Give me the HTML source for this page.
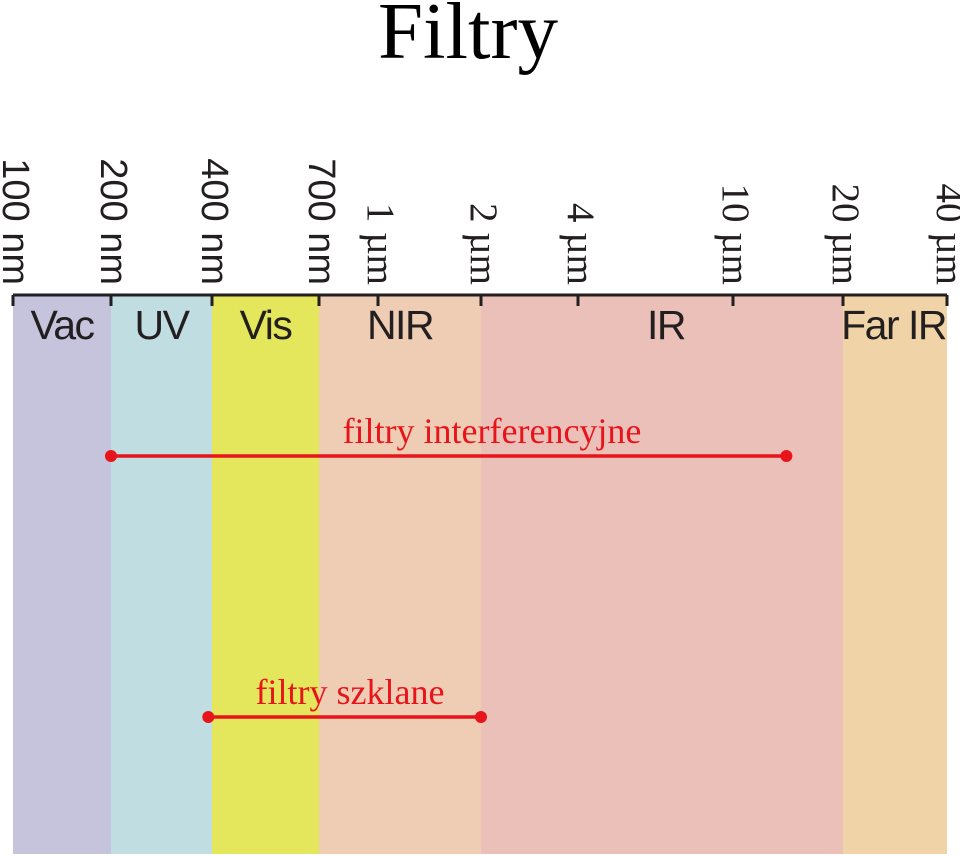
<!DOCTYPE html>
<html><head><meta charset="utf-8"><style>
html,body{margin:0;padding:0;background:#fff;}
svg{display:block;}
</style></head><body>
<svg id="chart" width="960" height="856" viewBox="0 0 960 856" xmlns="http://www.w3.org/2000/svg">
<text x="468" y="58" text-anchor="middle" font-family="Liberation Serif, serif" font-size="81">Filtry</text>
<g id="bands"></g>
<g id="axis"></g>
<g id="ranges"></g>
</svg>
<script>
// wavelengths in µm
const tickValues = [0.1, 0.2, 0.4, 0.7, 1, 2, 4, 10, 20, 40];
const tickLabels = ["100 nm","200 nm","400 nm","700 nm","1 µm","2 µm","4 µm","10 µm","20 µm","40 µm"];
// axis calibration (pixel location of each tick on the printed axis)
const tickPx = [13, 111, 212, 319, 378, 481, 578, 733, 843, 947];
const bandNames = ["Vac","UV","Vis","NIR","IR","Far IR"];
const bandStart = [0.1, 0.2, 0.4, 0.7, 2, 20];
const bandEnd = [0.2, 0.4, 0.7, 2, 20, 40];
const bandColors = ["#c6c3dd","#c0dde1","#e4e65c","#efcdb5","#ebc0b9","#f0d4a8"];
const filterNames = ["filtry interferencyjne","filtry szklane"];
const filterStart = [0.2, 0.39];
const filterEnd = [14, 2];
const filterY = [456, 717];

const NS = "http://www.w3.org/2000/svg";
function xScale(v){
  const lv = Math.log(v);
  for(let i=0;i<tickValues.length-1;i++){
    const a=Math.log(tickValues[i]), b=Math.log(tickValues[i+1]);
    if(lv<=b || i===tickValues.length-2){
      return tickPx[i] + (lv-a)/(b-a)*(tickPx[i+1]-tickPx[i]);
    }
  }
}
function mk(tag, attrs, parent){
  const e=document.createElementNS(NS,tag);
  for(const k in attrs) e.setAttribute(k,attrs[k]);
  parent.appendChild(e); return e;
}
const gB=document.getElementById("bands"), gA=document.getElementById("axis"), gR=document.getElementById("ranges");
const axisY=295, bottom=854;
bandNames.forEach((n,i)=>{
  const x0=xScale(bandStart[i]), x1=xScale(bandEnd[i]);
  const r=mk("rect",{x:x0,y:axisY,width:x1-x0,height:bottom-axisY,fill:bandColors[i]},gB);
  
  
  let cx=(x0+x1)/2, anchor="middle";
  if(n==="Far IR"){cx=x1-1; anchor="end";}
  if(n==="IR"){cx=666;}
  const t=mk("text",{x:cx,y:339,"text-anchor":anchor,"font-family":"Liberation Sans, sans-serif","font-size":"41","letter-spacing":"-1.5",fill:"#231f20"},gB);
  t.textContent=n;
  
  
});
const ax=mk("line",{x1:xScale(tickValues[0]),x2:xScale(tickValues[tickValues.length-1]),y1:axisY,y2:axisY,stroke:"#231f20","stroke-width":"3"},gA);


tickValues.forEach((v,i)=>{
  const x=xScale(v);
  const tk=mk("line",{x1:x,x2:x,y1:axisY,y2:axisY+11,stroke:"#231f20","stroke-width":"3"},gA);
  
  
  const serif=tickLabels[i].indexOf("µm")>=0;
  const t=mk("text",{x:0,y:0,"text-anchor":"end","font-family":serif?"Liberation Serif, serif":"Liberation Sans, sans-serif","font-size":serif?"39":"38",fill:"#231f20",transform:"translate("+(x-10)+",285) rotate(90)"},gA);
  t.textContent=tickLabels[i];
  
  
});
filterNames.forEach((n,i)=>{
  const x0=xScale(filterStart[i]), x1=xScale(filterEnd[i]), y=filterY[i];
  const l=mk("line",{x1:x0,x2:x1,y1:y,y2:y,stroke:"#e8141b","stroke-width":"3.5"},gR);
  
  
  [x0,x1].forEach(cx=>{
    const c=mk("circle",{cx:cx,cy:y,r:6,fill:"#e8141b"},gR);
    
    
  });
  const t=mk("text",{x:i===0?492:350,y:y-13,"text-anchor":"middle","font-family":"Liberation Serif, serif","font-size":"36",fill:"#e8141b"},gR);
  t.textContent=n;
  
  
});
</script>
</body></html>
